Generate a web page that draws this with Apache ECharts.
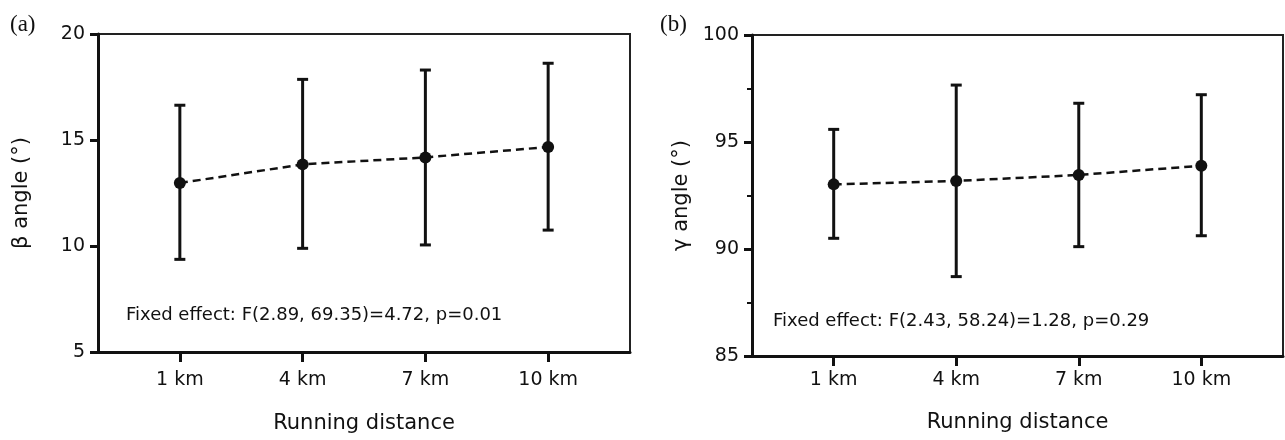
<!DOCTYPE html>
<html>
<head>
<meta charset="utf-8">
<script src="https://cdn.jsdelivr.net/npm/echarts@6.0.0/dist/echarts.min.js"></script>
<style>
  html, body { margin: 0; padding: 0; background: #fff; }
  #chart { width: 1285px; height: 440px; }
</style>
</head>
<body>
<div id="chart"></div>
<script>
// running distance (km)
const distances = [1, 4, 7, 10];

// panel (a): beta angle, mean and error bar ends
const betaMean = [12.97, 13.85, 14.18, 14.67];
const betaLow = [9.37, 9.89, 10.05, 10.75];
const betaHigh = [16.64, 17.86, 18.30, 18.62];

// panel (b): gamma angle
const gammaMean = [93.02, 93.18, 93.46, 93.89];
const gammaLow = [90.50, 88.71, 90.11, 90.62];
const gammaHigh = [95.59, 97.66, 96.81, 97.21];

const betaTicks = [5, 10, 15, 20];
const gammaTicks = [85, 90, 95, 100];

const statA = 'Fixed effect: F(2.89, 69.35)=4.72, p=0.01';
const statB = 'Fixed effect: F(2.43, 58.24)=1.28, p=0.29';

const FONT = 'DejaVu Sans';
const INK = '#111';

function errorBar(params, api) {
    let x = api.value(0);
    let lo = api.coord([x, api.value(1)]);
    let hi = api.coord([x, api.value(2)]);
    let half = 5.5;
    let style = { stroke: INK, lineWidth: 3 };
    return {
        type: 'group',
        children: [
            { type: 'line', shape: { x1: lo[0], y1: lo[1], x2: hi[0], y2: hi[1] }, style: style },
            { type: 'line', shape: { x1: lo[0] - half, y1: lo[1], x2: lo[0] + half, y2: lo[1] }, style: style },
            { type: 'line', shape: { x1: hi[0] - half, y1: hi[1], x2: hi[0] + half, y2: hi[1] }, style: style }
        ]
    };
}

function xAxisFor(idx, labelMargin, nameGap) {
    return {
        gridIndex: idx,
        type: 'value',
        min: -1,
        max: 12,
        name: 'Running distance',
        nameLocation: 'middle',
        nameGap: nameGap,
        nameTextStyle: { fontFamily: FONT, fontSize: 21, color: INK },
        axisLine: { show: true, onZero: false, lineStyle: { color: INK, width: 3 } },
        axisTick: { show: true, length: 10, customValues: distances, lineStyle: { color: INK, width: 3 } },
        axisLabel: {
            customValues: distances,
            margin: labelMargin,
            fontFamily: FONT, fontSize: 19, color: INK,
            formatter: (v) => v + ' km'
        },
        splitLine: { show: false }
    };
}

function yAxisFor(idx, ticks, name, nameGap, minor) {
    return {
        gridIndex: idx,
        type: 'value',
        min: ticks[0],
        max: ticks[ticks.length - 1],
        interval: ticks[1] - ticks[0],
        name: name,
        nameLocation: 'middle',
        nameGap: nameGap,
        nameTextStyle: { fontFamily: FONT, fontSize: 21, color: INK },
        axisLine: { show: true, onZero: false, lineStyle: { color: INK, width: 3 } },
        axisTick: { show: true, length: 8, lineStyle: { color: INK, width: 3 } },
        minorTick: { show: minor, splitNumber: 2, length: 5, lineStyle: { color: INK, width: 2 } },
        axisLabel: { margin: 13, fontFamily: FONT, fontSize: 19, color: INK },
        splitLine: { show: false }
    };
}

function pairs(xs, ys) {
    return xs.map((x, i) => [x, ys[i]]);
}

function bars(xs, lo, hi) {
    return xs.map((x, i) => [x, lo[i], hi[i]]);
}

let chart = echarts.init(document.getElementById('chart'), null, { renderer: 'canvas' });

chart.setOption({
    backgroundColor: '#fff',
    animation: false,
    grid: [
        { left: 98, top: 34, width: 532, height: 318, show: true, borderColor: '#222', borderWidth: 2, backgroundColor: 'transparent' },
        { left: 752, top: 35, width: 531, height: 321, show: true, borderColor: '#222', borderWidth: 2, backgroundColor: 'transparent' }
    ],
    xAxis: [
        xAxisFor(0, 19, 61),
        xAxisFor(1, 15, 56)
    ],
    yAxis: [
        yAxisFor(0, betaTicks, 'β angle (°)', 66, false),
        yAxisFor(1, gammaTicks, 'γ angle (°)', 60, true)
    ],
    graphic: [
        { type: 'text', left: 10, top: 13, style: { text: '(a)', fontFamily: 'Liberation Serif', fontSize: 23, fill: INK } },
        { type: 'text', left: 660, top: 13, style: { text: '(b)', fontFamily: 'Liberation Serif', fontSize: 23, fill: INK } },
        { type: 'text', x: 126, y: 315, style: { text: statA, fontFamily: FONT, fontSize: 18, fill: INK, verticalAlign: 'middle' } },
        { type: 'text', x: 773, y: 321, style: { text: statB, fontFamily: FONT, fontSize: 18, fill: INK, verticalAlign: 'middle' } }
    ],
    series: [
        {
            type: 'custom', xAxisIndex: 0, yAxisIndex: 0,
            renderItem: errorBar, data: bars(distances, betaLow, betaHigh), z: 2
        },
        {
            type: 'line', xAxisIndex: 0, yAxisIndex: 0,
            data: pairs(distances, betaMean),
            symbol: 'circle', symbolSize: 12,
            itemStyle: { color: INK },
            lineStyle: { color: INK, width: 2.5, type: [8, 5] },
            z: 3
        },
        {
            type: 'custom', xAxisIndex: 1, yAxisIndex: 1,
            renderItem: errorBar, data: bars(distances, gammaLow, gammaHigh), z: 2
        },
        {
            type: 'line', xAxisIndex: 1, yAxisIndex: 1,
            data: pairs(distances, gammaMean),
            symbol: 'circle', symbolSize: 12,
            itemStyle: { color: INK },
            lineStyle: { color: INK, width: 2.5, type: [8, 5] },
            z: 3
        }
    ]
});
</script>
</body>
</html>
